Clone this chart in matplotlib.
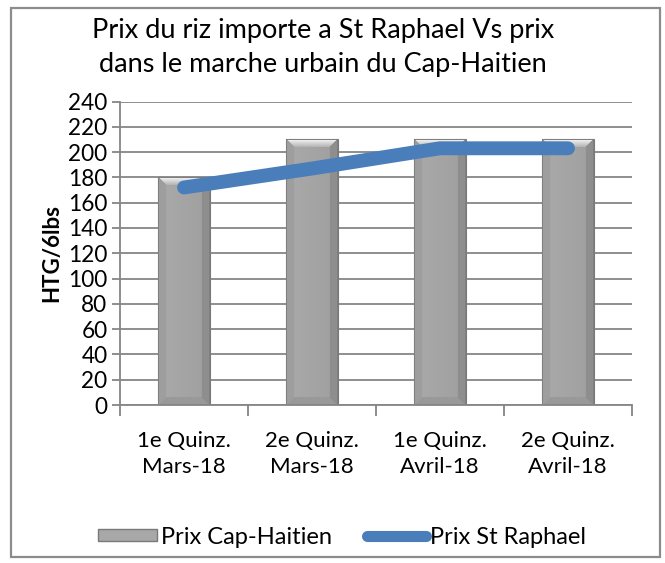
import numpy as np
import matplotlib.pyplot as plt
from matplotlib.patches import Rectangle, Patch
from matplotlib.lines import Line2D

plt.rcParams['font.family'] = ['Lato', 'DejaVu Sans']

# data
categories = ['1e Quinz.\nMars-18', '2e Quinz.\nMars-18', '1e Quinz.\nAvril-18', '2e Quinz.\nAvril-18']
prix_cap = [180, 210, 210, 210]
prix_raphael = [172, 187, 203, 203]
yticks = list(range(0, 241, 20))

W, H, DPI = 665, 563, 100
fig = plt.figure(figsize=(W / DPI, H / DPI), dpi=DPI)
ax = fig.add_axes([120 / W, 1 - 405 / H, (632 - 120) / W, (405 - 101.5) / H])

x = np.arange(len(categories))
ax.set_xlim(-0.5, 3.5)
ax.set_ylim(0, 240)

# gridlines
ax.set_yticks(yticks)
ax.yaxis.grid(True, color='#868686', lw=1.3)
ax.set_axisbelow(True)

# bars, then shaded images on top of them (bevel look)
bars = ax.bar(x, prix_cap, width=0.4, color='#a8a8a8', edgecolor='#7a7a7a', lw=0.8, zorder=2)
px_per_x = (632 - 120) / 4.0
px_per_y = (405 - 101.5) / 240.0
for rect in bars:
    bx, bw, bh = rect.get_x(), rect.get_width(), rect.get_height()
    w = int(round(bw * px_per_x))
    h = int(round(bh * px_per_y))
    r = np.arange(h)[:, None] * np.ones((1, w))
    c = np.ones((h, 1)) * np.arange(w)[None, :]
    dt, db, dl, dr = r, h - 1 - r, c, w - 1 - c
    b = 8
    img = np.full((h, w), 0.665)
    img -= 0.04 * (c / w)  # slightly darker to the right
    left = (dl < b) & (dl <= np.minimum(dt, db))
    right = (dr < b) & (dr <= np.minimum(dt, db))
    bottom = (db < b) & (db < np.minimum(dl, dr))
    top = (dt < b) & (dt < np.minimum(dl, dr))
    img[left] = 0.62
    img[right] = 0.56
    img[bottom] = 0.60
    img[top] = 0.96 - 0.28 * dt[top] / b
    img[(dl < 1) | (dr < 1) | (dt < 1) | (db < 1)] = 0.50
    rgb = np.dstack([img, img, img])
    ax.imshow(rgb, extent=(bx, bx + bw, 0, bh), aspect='auto', origin='upper',
              zorder=2.5, interpolation='bilinear')
ax.set_xlim(-0.5, 3.5)
ax.set_ylim(0, 240)

ax.plot(x, prix_raphael, color='#4a7ebb', lw=10, solid_capstyle='round',
        solid_joinstyle='round', zorder=4)

# axes styling
for s in ['top', 'right']:
    ax.spines[s].set_visible(False)
for s in ['left', 'bottom']:
    ax.spines[s].set_color('#868686')
    ax.spines[s].set_linewidth(1.3)
ax.tick_params(axis='y', length=6, color='#868686', width=1.3, labelsize=16.3, pad=3)
ax.set_xticks(x)
ax.set_xticklabels(categories, fontsize=16, linespacing=1.35)
ax.tick_params(axis='x', which='major', length=0, pad=19)
ax.set_xticks(np.arange(-0.5, 3.6, 1), minor=True)
ax.tick_params(axis='x', which='minor', length=8, color='#868686', width=1.3)

ax.set_ylabel('HTG/6lbs', fontsize=16, fontweight='bold', labelpad=4)

fig.text(323 / W, 1 - 47.5 / H, 'Prix du riz importe a St Raphael Vs prix\ndans le marche urbain du Cap-Haitien',
         ha='center', va='center', fontsize=19.5, linespacing=1.45)

# legend
handles = [Patch(facecolor='#a8a8a8', edgecolor='#7a7a7a'),
           Line2D([0], [0], color='#4a7ebb', lw=8, solid_capstyle='round')]
fig.legend(handles, ['Prix Cap-Haitien', 'Prix St Raphael'], loc='center',
           bbox_to_anchor=(342 / W, 1 - 537 / H), ncol=2, frameon=False, fontsize=17,
           handlelength=2.5, handleheight=0.4, handletextpad=0.15, columnspacing=1.5)

# outer frame
fig.patches.append(Rectangle((11 / W, 1 - 557 / H), 649 / W, 549 / H, transform=fig.transFigure,
                             fill=False, ec='#8c8c8c', lw=1.6))

fig.savefig('out.png', dpi=DPI)
